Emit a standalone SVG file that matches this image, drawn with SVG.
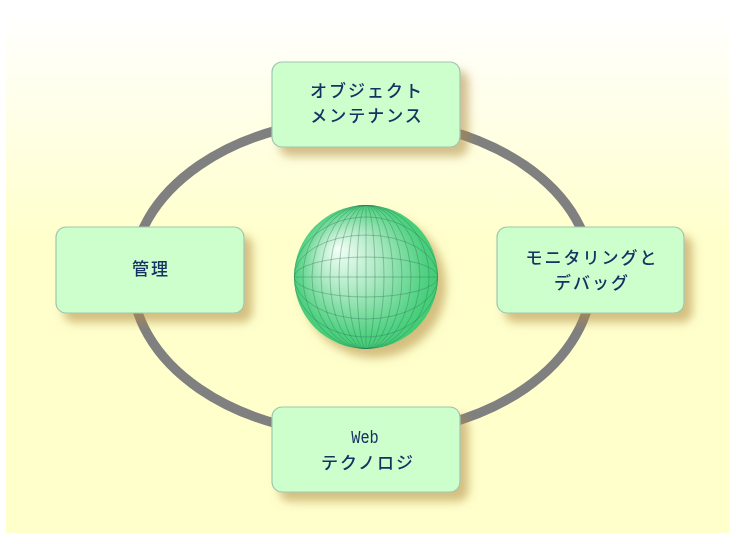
<svg xmlns="http://www.w3.org/2000/svg" width="729" height="535" viewBox="0 0 729 535">
  <defs>
    <linearGradient id="bgGrad" x1="0" y1="15" x2="0" y2="240" gradientUnits="userSpaceOnUse">
      <stop offset="0" stop-color="#ffffff"/>
      <stop offset="1" stop-color="#ffffcc"/>
    </linearGradient>
    <radialGradient id="sphereGrad" cx="0.5" cy="0.5" r="0.55" fx="0.3" fy="0.3">
      <stop offset="0" stop-color="#f4fff8"/>
      <stop offset="0.4" stop-color="#ace9c2"/>
      <stop offset="0.8" stop-color="#52d283"/>
      <stop offset="1" stop-color="#38c86c"/>
    </radialGradient>
    <filter id="shadow" x="-20%" y="-20%" width="150%" height="160%">
      <feGaussianBlur in="SourceAlpha" stdDeviation="5"/>
      <feOffset dx="8" dy="9" result="blur"/>
      <feFlood flood-color="#b08a40" flood-opacity="0.55"/>
      <feComposite in2="blur" operator="in"/>
      <feMerge>
        <feMergeNode/>
        <feMergeNode in="SourceGraphic"/>
      </feMerge>
    </filter>
    <clipPath id="sphereClip">
      <circle cx="366" cy="277" r="72"/>
    </clipPath>
  </defs>
  <style>
    .box { fill: #ccffcc; stroke: #9fc8ae; stroke-width: 1.2; }
    .label { font-family: "Noto Sans CJK JP", "Noto Sans", sans-serif; font-size: 17px; fill: #183262; text-anchor: middle; letter-spacing: 2px; font-weight: 500; }
    .mono { font-family: "Liberation Mono", monospace; font-size: 18px; fill: #183262; text-anchor: middle; }
    .ring { fill: none; stroke: #808080; stroke-width: 9.5; }
    .grid { fill: none; stroke: #2f6f55; stroke-opacity: 0.4; stroke-width: 0.9; }
  </style>

  <!-- background -->
  <rect x="0" y="0" width="729" height="535" fill="#ffffff"/>
  <rect x="6" y="0" width="723" height="533" fill="url(#bgGrad)"/>

  <!-- connecting ring -->
  <g id="connectors">
    <ellipse class="ring" cx="362" cy="277" rx="230" ry="158"/>
  </g>

  <!-- globe in the centre -->
  <g id="globe">
    <circle cx="366" cy="277" r="72" fill="url(#sphereGrad)" filter="url(#shadow)"/>
    <g clip-path="url(#sphereClip)" class="grid">
      <line x1="366" y1="205" x2="366" y2="349"/>
      <ellipse cx="366" cy="277" rx="9" ry="72"/>
      <ellipse cx="366" cy="277" rx="18" ry="72"/>
      <ellipse cx="366" cy="277" rx="27" ry="72"/>
      <ellipse cx="366" cy="277" rx="36" ry="72"/>
      <ellipse cx="366" cy="277" rx="45" ry="72"/>
      <ellipse cx="366" cy="277" rx="54" ry="72"/>
      <ellipse cx="366" cy="277" rx="63" ry="72"/>
      <line x1="294" y1="277" x2="438" y2="277"/>
      <ellipse cx="366" cy="277" rx="72" ry="20"/>
      <ellipse cx="366" cy="277" rx="72" ry="42"/>
      <ellipse cx="366" cy="277" rx="72" ry="60"/>
    </g>
  </g>

  <g id="node-object-maintenance" filter="url(#shadow)">
    <rect class="box" x="272" y="62" width="188" height="85" rx="10"/>
    <text class="label" x="367" y="97">オブジェクト</text>
    <text class="label" x="367" y="122">メンテナンス</text>
  </g>

  <g id="node-management" filter="url(#shadow)">
    <rect class="box" x="56" y="227" width="188" height="86" rx="10"/>
    <text class="label" x="151" y="275">管理</text>
  </g>

  <g id="node-monitoring" filter="url(#shadow)">
    <rect class="box" x="497" y="227" width="187" height="86" rx="10"/>
    <text class="label" x="592" y="264">モニタリングと</text>
    <text class="label" x="592" y="289">デバッグ</text>
  </g>

  <g id="node-web" filter="url(#shadow)">
    <rect class="box" x="272" y="407" width="188" height="85" rx="10"/>
    <text class="mono" x="365" y="443" transform="translate(365 0) scale(0.85 1) translate(-365 0)">Web</text>
    <text class="label" x="368" y="469">テクノロジ</text>
  </g>
</svg>
